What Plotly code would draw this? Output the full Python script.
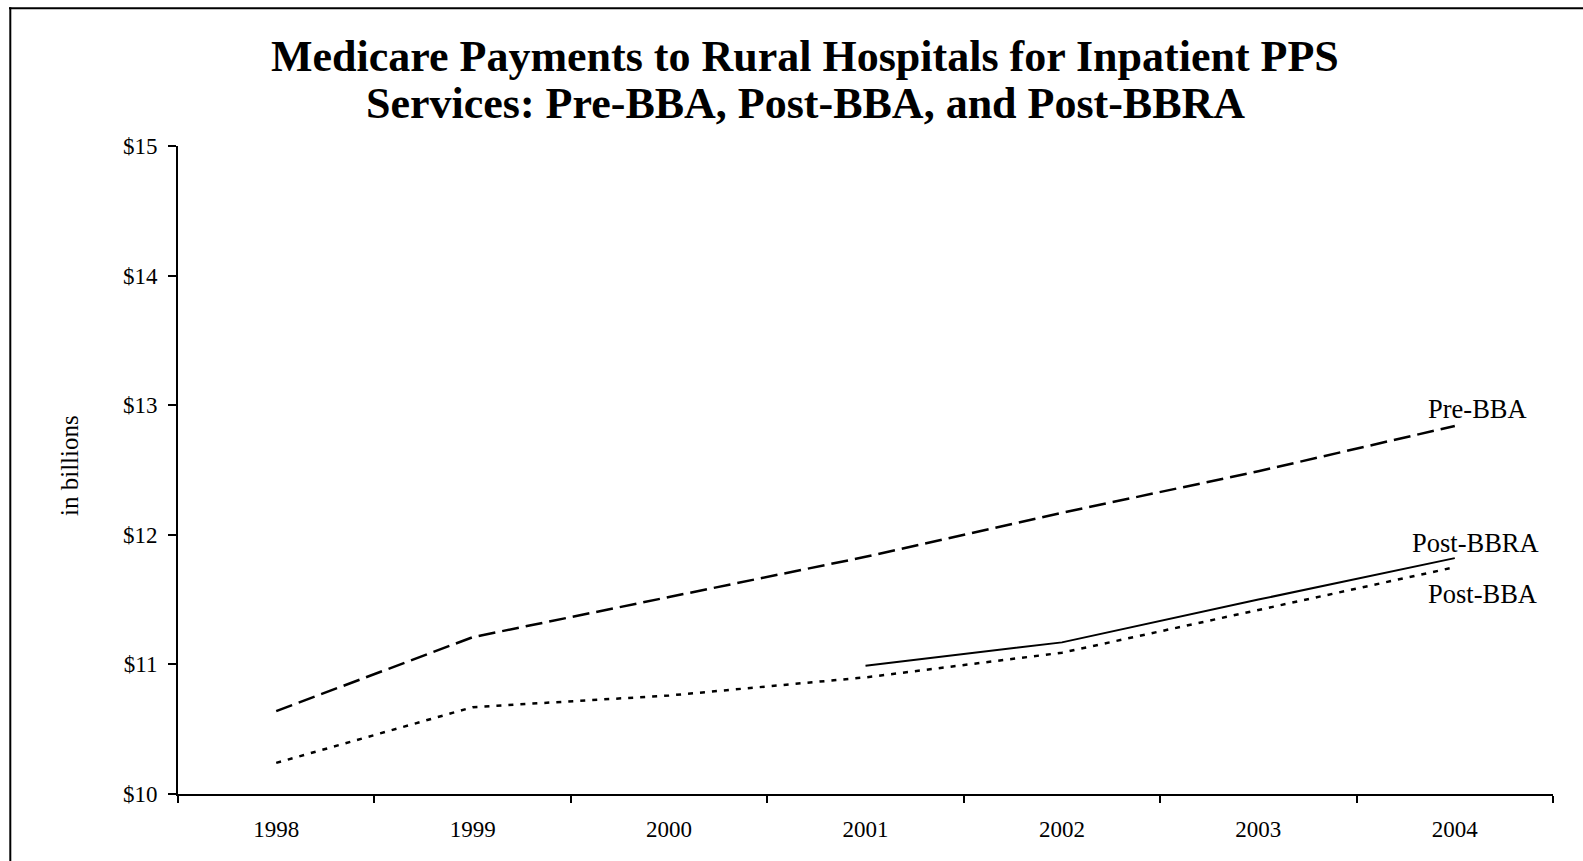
import plotly.graph_objects as go

years = ["1998", "1999", "2000", "2001", "2002", "2003", "2004"]
pre_bba = [10.64, 11.21, 11.52, 11.83, 12.17, 12.49, 12.84]
post_bba = [10.24, 10.67, 10.76, 10.90, 11.09, 11.42, 11.75]
post_bbra = [None, None, None, 10.99, 11.17, 11.50, 11.82]
series_names = ["Pre-BBA", "Post-BBA", "Post-BBRA"]
y_ticks = [10, 11, 12, 13, 14, 15]

FONT = "Liberation Serif, Times New Roman, serif"

fig = go.Figure()
fig.add_trace(go.Scatter(x=years, y=pre_bba, mode="lines", name=series_names[0],
                         line=dict(color="black", width=2.5, dash="17px,7px")))
fig.add_trace(go.Scatter(x=years, y=post_bba, mode="lines", name=series_names[1],
                         line=dict(color="black", width=2.5, dash="5px,7px")))
fig.add_trace(go.Scatter(x=years, y=post_bbra, mode="lines", name=series_names[2],
                         line=dict(color="black", width=2)))

W, H = 1583, 861
L, R, T, B = 178, 30, 146, 67
pw, ph = W - L - R, H - T - B

def px(x):
    return (x - L) / pw

def py(y):
    return (H - B - y) / ph

annotations = [
    dict(text="<b>Medicare Payments to Rural Hospitals for Inpatient PPS</b>",
         xref="paper", yref="paper", x=px(805), y=py(56), xanchor="center", yanchor="middle",
         showarrow=False, font=dict(family=FONT, size=44, color="black")),
    dict(text="<b>Services: Pre-BBA, Post-BBA, and Post-BBRA</b>",
         xref="paper", yref="paper", x=px(805), y=py(103), xanchor="center", yanchor="middle",
         showarrow=False, font=dict(family=FONT, size=44, color="black")),
    dict(text=series_names[0], xref="paper", yref="paper", x=px(1477), y=py(409),
         xanchor="center", yanchor="middle", showarrow=False,
         font=dict(family=FONT, size=26.5, color="black")),
    dict(text=series_names[2], xref="paper", yref="paper", x=px(1475), y=py(543),
         xanchor="center", yanchor="middle", showarrow=False,
         font=dict(family=FONT, size=26.5, color="black")),
    dict(text=series_names[1], xref="paper", yref="paper", x=px(1482), y=py(594),
         xanchor="center", yanchor="middle", showarrow=False,
         font=dict(family=FONT, size=26.5, color="black")),
    dict(text="in billions", xref="paper", yref="paper", x=px(69), y=py(466),
         xanchor="center", yanchor="middle", textangle=-90, showarrow=False,
         font=dict(family=FONT, size=25, color="black")),
]

shapes = [
    dict(type="line", xref="paper", yref="paper", x0=px(9), x1=px(1600), y0=py(8.3), y1=py(8.3),
         line=dict(color="black", width=2)),
    dict(type="line", xref="paper", yref="paper", x0=px(10.3), x1=px(10.3), y0=py(7.3), y1=py(900),
         line=dict(color="black", width=2)),
]

fig.update_layout(
    width=W, height=H,
    margin=dict(l=L, r=R, t=T, b=B),
    paper_bgcolor="white", plot_bgcolor="white",
    showlegend=False,
    hovermode=False,
    font=dict(family=FONT, color="black"),
    annotations=annotations,
    shapes=shapes,
    xaxis=dict(type="category", categoryorder="array", categoryarray=years,
               range=[-0.5, 6.5], tickson="boundaries", ticks="outside", ticklen=7,
               tickwidth=2, tickcolor="black", showline=True, linecolor="black", linewidth=2,
               showgrid=False, zeroline=False, ticklabelstandoff=13,
               tickfont=dict(family=FONT, size=23, color="black")),
    yaxis=dict(range=[10, 15], tickvals=y_ticks, ticktext=["$%d" % v for v in y_ticks],
               ticks="outside", ticklen=8, tickwidth=2, tickcolor="black",
               showline=True, linecolor="black", linewidth=2, showgrid=False, zeroline=False,
               ticklabelstandoff=6,
               tickfont=dict(family=FONT, size=23, color="black")),
)

fig.write_html("out.html", config={"displayModeBar": False},
               post_script="document.body.style.margin='0';document.body.style.overflow='hidden';")
